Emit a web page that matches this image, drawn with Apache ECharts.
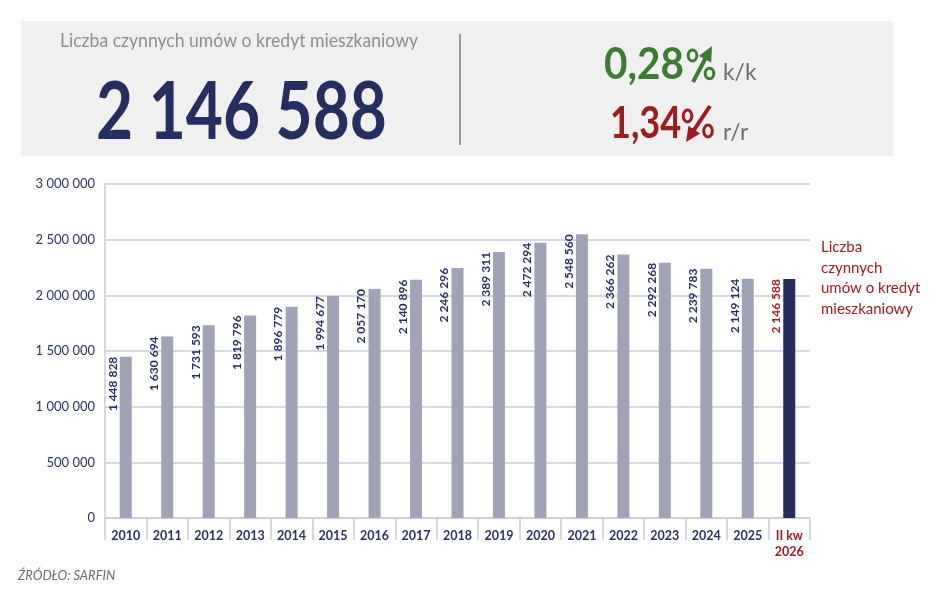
<!DOCTYPE html>
<html>
<head>
<meta charset="utf-8">
<script src="https://cdn.jsdelivr.net/npm/echarts@6/dist/echarts.min.js"></script>
<style>
  html, body { margin: 0; padding: 0; background: #fff; }
  #main { width: 948px; height: 601px; }
</style>
</head>
<body>
<div id="main"></div>
<script>
// dane
var categories = ['2010', '2011', '2012', '2013', '2014', '2015', '2016', '2017', '2018',
    '2019', '2020', '2021', '2022', '2023', '2024', '2025', 'II kw\n2026'];
var values = [1448828, 1630694, 1731593, 1819796, 1896779, 1994677, 2057170, 2140896, 2246296,
    2389311, 2472294, 2548560, 2366262, 2292268, 2239783, 2149124, 2146588];
var yTicks = [0, 500000, 1000000, 1500000, 2000000, 2500000, 3000000];

var headline = 'Liczba czynnych umów o kredyt mieszkaniowy';
var total = '2 146 588';
var qoq = '0,28';
var yoy = '1,34';
var seriesName = 'Liczba\nczynnych\numów o kredyt\nmieszkaniowy';
var source = 'ŹRÓDŁO: SARFIN';

var navy = '#262d5f';
var gray = '#a0a3b6';
var red = '#9c1c20';
var green = '#3d7b35';
var line = '#c9ccdb';
var font = 'Lato, "Open Sans", sans-serif';

function fmt(v) {
    return String(v).replace(/\B(?=(\d{3})+(?!\d))/g, ' ');
}

function txt(x, y, text, f, fill, align, sx) {
    return {
        type: 'text', x: x, y: y, scaleX: sx || 1, z: 5,
        style: {
            text: text, x: 0, y: 0, font: f, fill: fill,
            align: align || 'left', textAlign: align || 'left',
            verticalAlign: 'middle', textVerticalAlign: 'middle'
        }
    };
}

// znak procentu: dwa kółka, strzałka robi za kreskę
function ring(cx, cy, rx, ry, color) {
    return {
        type: 'ellipse', z: 6,
        shape: { cx: cx, cy: cy, rx: rx, ry: ry },
        style: { fill: 'none', stroke: color, lineWidth: 3 }
    };
}

function arrow(x1, y1, x2, y2, color) {
    var dx = x2 - x1, dy = y2 - y1;
    var len = Math.sqrt(dx * dx + dy * dy);
    var ux = dx / len, uy = dy / len;
    var bx = x2 - ux * 15, by = y2 - uy * 15;
    var px = -uy * 7, py = ux * 7;
    return [{
        type: 'line', z: 10,
        shape: { x1: x1, y1: y1, x2: bx + ux * 2, y2: by + uy * 2 },
        style: { stroke: color, lineWidth: 4 }
    }, {
        type: 'polygon', z: 10,
        shape: { points: [[x2, y2], [bx + px, by + py], [bx - px, by - py]] },
        style: { fill: color }
    }];
}

var last = values.length - 1;

var myChart = echarts.init(document.getElementById('main'));

var graphics = [
    { type: 'rect', z: 1, shape: { x: 21, y: 21, width: 872, height: 135 }, style: { fill: '#eff0ef' } },
    { type: 'line', z: 2, shape: { x1: 460, y1: 34, x2: 460, y2: 145 }, style: { stroke: '#9a9a9a', lineWidth: 2 } },
    txt(239, 41, headline, '20px ' + font, '#8d8d8d', 'center', 0.88),
    txt(96, 113, total, 'bold 80px ' + font, navy, 'left', 0.8),
    txt(604, 65, qoq, 'bold 44px ' + font, green, 'left', 0.92),
    txt(610, 124, yoy, 'bold 44px ' + font, red, 'left', 0.82),
    ring(692.5, 55.5, 4.3, 5.5, green),
    ring(709.5, 73.5, 4.3, 5.2, green),
    ring(687.5, 116, 4.3, 6, red),
    ring(708, 131, 4.3, 6, red),
    txt(723, 72, 'k/k', '24px ' + font, '#6e6e6e', 'left', 0.95),
    txt(723, 132, 'r/r', '24px ' + font, '#6e6e6e', 'left', 0.95),
    txt(821, 278, seriesName, '15px ' + font, red, 'left'),
    {
        type: 'text', x: 18, y: 576, z: 5,
        style: {
            text: source, x: 0, y: 0, font: 'italic 13px ' + font, fill: '#6a6a6a',
            verticalAlign: 'middle', textVerticalAlign: 'middle'
        }
    }
];
graphics[12].style.lineHeight = 20.5;
graphics = graphics.concat(arrow(693, 82, 712, 46, green), arrow(710, 106, 686, 142, red));

var option = {
    animation: false,
    grid: { left: 105, right: 138, top: 184, bottom: 83 },
    xAxis: {
        type: 'category',
        data: categories,
        axisLine: { lineStyle: { color: line, width: 1.5 } },
        axisTick: { show: true, length: 22, lineStyle: { color: line, width: 1.5 } },
        axisLabel: {
            color: '#2a3163',
            fontFamily: font,
            fontSize: 12.5,
            fontWeight: 'bold',
            lineHeight: 16,
            margin: 10,
            interval: 0,
            formatter: function(v, i) {
                return i === last ? '{r|' + v.split('\n').join('}\n{r|') + '}' : v;
            },
            rich: { r: { color: red, fontFamily: font, fontSize: 12.5, fontWeight: 'bold', lineHeight: 16 } }
        }
    },
    yAxis: {
        type: 'value',
        min: yTicks[0],
        max: yTicks[yTicks.length - 1],
        interval: yTicks[1] - yTicks[0],
        axisLine: { show: true, lineStyle: { color: line, width: 1.5 } },
        axisTick: { show: false },
        splitLine: { lineStyle: { color: line, width: 1.5 } },
        axisLabel: {
            color: '#2a3163',
            fontFamily: font,
            fontSize: 13,
            margin: 10,
            formatter: fmt
        }
    },
    series: [{
        name: 'Liczba czynnych umów o kredyt mieszkaniowy',
        type: 'bar',
        barWidth: 12,
        itemStyle: { color: gray },
        label: {
            show: true,
            position: [-7, 0],
            rotate: 90,
            align: 'right',
            verticalAlign: 'middle',
            color: navy,
            fontFamily: font,
            fontSize: 12,
            fontWeight: 'bold',
            formatter: function(p) { return fmt(p.value); }
        },
        data: values.map(function(v, i) {
            if (i === last) {
                return { value: v, itemStyle: { color: navy }, label: { color: red } };
            }
            return v;
        })
    }],
    graphic: graphics
};

myChart.setOption(option);
</script>
</body>
</html>
